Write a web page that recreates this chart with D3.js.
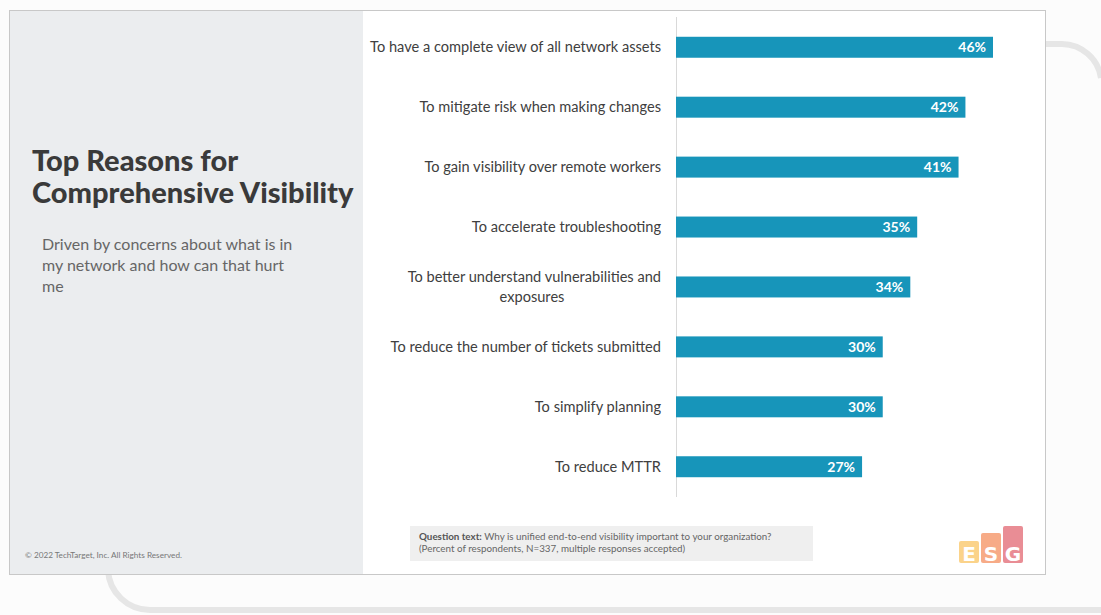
<!DOCTYPE html>
<html><head><meta charset="utf-8">
<script src="https://cdn.jsdelivr.net/npm/d3@7"></script>
<style>
html,body{margin:0;padding:0;background:#fcfcfc;}
svg{display:block;font-family:Lato,"Open Sans",sans-serif;}
</style></head><body>
<svg id="c" width="1101" height="615"></svg>
<script>
const categories = [
  ["To have a complete view of all network assets"],
  ["To mitigate risk when making changes"],
  ["To gain visibility over remote workers"],
  ["To accelerate troubleshooting"],
  ["To better understand vulnerabilities and", "exposures"],
  ["To reduce the number of tickets submitted"],
  ["To simplify planning"],
  ["To reduce MTTR"]
];
const values = [46, 42, 41, 35, 34, 30, 30, 27];
const titleLines = ["Top Reasons for", "Comprehensive Visibility"];
const subtitleLines = ["Driven by concerns about what is in", "my network and how can that hurt", "me"];

const svg = d3.select("#c");

// decorative arcs
svg.append("path").attr("d","M1040,44 L1062,44 A40,40 0 0 1 1101,78")
  .attr("fill","none").attr("stroke","#e6e6e6").attr("stroke-width",6);
svg.append("path").attr("d","M108,570 A42,42 0 0 0 150,610 L1101,610")
  .attr("fill","none").attr("stroke","#e6e6e6").attr("stroke-width",6);

// frame
svg.append("rect").attr("x",9.5).attr("y",10.5).attr("width",1036).attr("height",564)
  .attr("fill","#ffffff").attr("stroke","#c8c8c8");
svg.append("rect").attr("x",10).attr("y",11).attr("width",353).attr("height",563).attr("fill","#ebedef");

// titles
const t = svg.append("text").attr("font-size",29).attr("font-weight",900).attr("fill","#3a3a3a");
titleLines.forEach((l,i)=>t.append("tspan").attr("x",32).attr("y",171+i*32).text(l));
const st = svg.append("text").attr("font-size",16).attr("fill","#666");
subtitleLines.forEach((l,i)=>st.append("tspan").attr("x",42).attr("y",250+i*21).text(l));
svg.append("text").attr("x",25).attr("y",558).attr("font-size",8.2).attr("fill","#777")
  .text("© 2022 TechTarget, Inc. All Rights Reserved.");

// chart
const x = d3.scaleLinear().domain([0,46]).range([676,993]);
const y = d3.scaleBand().domain(d3.range(values.length)).range([17,497]).paddingInner(0.65).paddingOuter(0.33);

svg.append("line").attr("x1",676.5).attr("x2",676.5).attr("y1",17).attr("y2",497).attr("stroke","#d9d9d9");

const g = svg.append("g");
g.selectAll("rect.bar").data(values).join("rect").attr("class","bar")
  .attr("x",x(0)).attr("y",(d,i)=>y(i)).attr("width",d=>x(d)-x(0)).attr("height",y.bandwidth())
  .attr("fill","#1795ba");
g.selectAll("text.val").data(values).join("text").attr("class","val")
  .attr("x",d=>x(d)-7).attr("y",(d,i)=>y(i)+y.bandwidth()/2).attr("dy","0.36em")
  .attr("text-anchor","end").attr("font-size",14).attr("font-weight",700).attr("fill","#fff")
  .text(d=>d+"%");
const lab = g.selectAll("text.lab").data(categories).join("text").attr("class","lab")
  .attr("font-size",14.6).attr("fill","#404040");
lab.each(function(lines,i){
  const cy = y(i)+y.bandwidth()/2;
  const n = lines.length;
  d3.select(this).selectAll("tspan").data(lines).join("tspan")
    .attr("x",(d,j)=> n>1 && j>0 ? 532 : 661)
    .attr("text-anchor",(d,j)=> n>1 && j>0 ? "middle":"end")
    .attr("y",(d,j)=>cy + 5 + (j - (n-1)/2)*20)
    .text(d=>d);
});

// question box
svg.append("rect").attr("x",410).attr("y",526).attr("width",403).attr("height",35).attr("fill","#efefef");
const q = svg.append("text").attr("font-size",9.8).attr("fill","#666");
const q1 = q.append("tspan").attr("x",419).attr("y",540);
q1.append("tspan").attr("font-weight",700).attr("fill","#555").text("Question text: ");
q1.append("tspan").text("Why is unified end-to-end visibility important to your organization?");
q.append("tspan").attr("x",419).attr("y",552).text("(Percent of respondents, N=337, multiple responses accepted)");

// ESG logo
const logo = [["E","#fbd38a",959,541],["S","#f7ab87",981,533],["G","#e98d95",1003,526]];
logo.forEach(([ch,c,lx,ly])=>{
  svg.append("rect").attr("x",lx).attr("y",ly).attr("width",20).attr("height",563-ly).attr("rx",2).attr("fill",c);
  svg.append("text").attr("x",lx+10).attr("y",561).attr("text-anchor","middle").attr("font-size",20)
    .attr("font-family","DejaVu Sans").attr("font-weight",700).attr("fill","#fff").text(ch);
});
</script></body></html>
